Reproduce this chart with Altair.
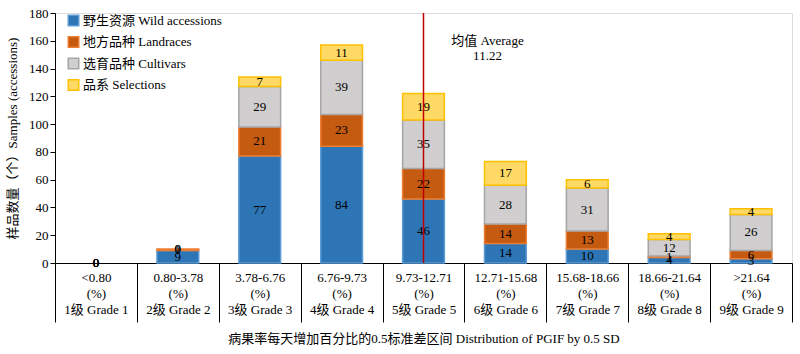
import altair as alt
import pandas as pd

ranges = ["<0.80", "0.80-3.78", "3.78-6.76", "6.76-9.73", "9.73-12.71",
          "12.71-15.68", "15.68-18.66", "18.66-21.64", ">21.64"]
grades = ["1级 Grade 1", "2级 Grade 2", "3级 Grade 3", "4级 Grade 4", "5级 Grade 5",
          "6级 Grade 6", "7级 Grade 7", "8级 Grade 8", "9级 Grade 9"]
series_names = ["野生资源 Wild accessions", "地方品种 Landraces",
                "选育品种 Cultivars", "品系 Selections"]
wild = [0, 9, 77, 84, 46, 14, 10, 4, 3]
landraces = [0, 1, 21, 23, 22, 14, 13, 1, 6]
cultivars = [0, 0, 29, 39, 35, 28, 31, 12, 26]
selections = [0, 0, 7, 11, 19, 17, 6, 4, 4]
avg_value = 11.22
avg_bin = 4  # index of the bin containing the average
avg_label = "均值 Average"

fills = ["#2E75B6", "#C55A11", "#D0CECE", "#FFD966"]
strokes = ["#5B9BD5", "#ED7D31", "#A5A5A5", "#FFC000"]

cats = [f"{r}|{g}" for r, g in zip(ranges, grades)]
rows = []
for si, (name, vals) in enumerate(zip(series_names, [wild, landraces, cultivars, selections])):
    for c, v in zip(cats, vals):
        rows.append({"cat": c, "series": name, "value": v, "order": si})
df = pd.DataFrame(rows)

FONT = "'Liberation Serif', 'Noto Sans CJK SC'"
W, H = 737, 250

x_scale = alt.Scale(domain=cats, paddingInner=0, paddingOuter=0)
y_scale = alt.Scale(domain=[0, 180], nice=False)

x_axis = alt.Axis(
    title="病果率每天增加百分比的0.5标准差区间 Distribution of PGIF by 0.5 SD",
    labelExpr="datum.value ? [split(datum.value, '|')[0], '(%)', split(datum.value, '|')[1]] : ''",
    labelAngle=0, labelFontSize=13, labelLineHeight=16, labelPadding=-51,
    labelFont=FONT, labelColor="black", labelOverlap=False, labelBaseline="top",
    tickBand="extent", tickSize=59, tickColor="black", tickWidth=1,
    domainColor="black", domainWidth=1,
    titleFont=FONT, titleFontSize=13, titleFontWeight="normal", titleColor="black",
    titlePadding=10,
)

y_axis = alt.Axis(
    title="样品数量（个）Samples (accessions)",
    values=list(range(0, 181, 20)), grid=False,
    labelFont=FONT, labelFontSize=13, labelColor="black",
    labelOverlap=False, labelFlush=False,
    tickSize=5, tickColor="black", domainColor="black",
    labelPadding=2,
    titleFont=FONT, titleFontSize=13, titleFontWeight="normal",
    titleColor="black", titlePadding=9,
)


def X():
    return alt.X("cat:N", sort=cats, scale=x_scale, axis=x_axis)


leg = dict(title=None, orient="none", legendX=12, legendY=1,
           symbolType="square", symbolSize=110,
           labelFont=FONT, labelFontSize=13, labelColor="black",
           rowPadding=4.5, labelOffset=3)

bars = alt.Chart(df).transform_filter("datum.value > 0").mark_bar(
    strokeWidth=1.5, width=alt.RelativeBandSize(0.51)
).encode(
    x=X(),
    y=alt.Y("value:Q", stack="zero", scale=y_scale, axis=y_axis),
    fill=alt.Fill("series:N", scale=alt.Scale(domain=series_names, range=fills),
                  legend=alt.Legend(**leg)),
    stroke=alt.Stroke("series:N", scale=alt.Scale(domain=series_names, range=strokes),
                      legend=alt.Legend(**leg)),
    order=alt.Order("order:Q"),
)

labels = alt.Chart(df).transform_stack(
    stack="value", groupby=["cat"], as_=["y0", "y1"], sort=[alt.SortField("order")]
).transform_calculate(mid="(datum.y0 + datum.y1) / 2").mark_text(
    font=FONT, fontSize=13, color="black", baseline="middle"
).encode(
    x=X(),
    y=alt.Y("mid:Q", scale=y_scale, axis=y_axis),
    text="value:Q",
)

avg_df = pd.DataFrame({"cat": [cats[avg_bin]], "top": [180], "bottom": [0],
                       "txt": [f"{avg_label}\n{avg_value}"], "ty": [160]})

avg_line = alt.Chart(avg_df).mark_rule(color="#C00000", strokeWidth=1.5).encode(
    x=X(),
    y=alt.Y("top:Q", scale=y_scale, axis=y_axis),
    y2="bottom:Q",
)

avg_text = alt.Chart(avg_df).mark_text(
    font=FONT, fontSize=13, color="black", lineBreak="\n", lineHeight=15,
    dx=64, baseline="middle", align="center"
).encode(
    x=X(),
    y=alt.Y("ty:Q", scale=y_scale, axis=y_axis),
    text="txt:N",
)

chart = alt.layer(bars, labels, avg_line, avg_text).properties(
    width=W, height=H,
    autosize=alt.AutoSizeParams(type="none"),
    padding={"left": 55, "top": 13, "right": 8, "bottom": 91},
).configure_view(stroke=None).configure(font=FONT)

chart.save("out.html", embed_options={"renderer": "svg", "actions": False})
